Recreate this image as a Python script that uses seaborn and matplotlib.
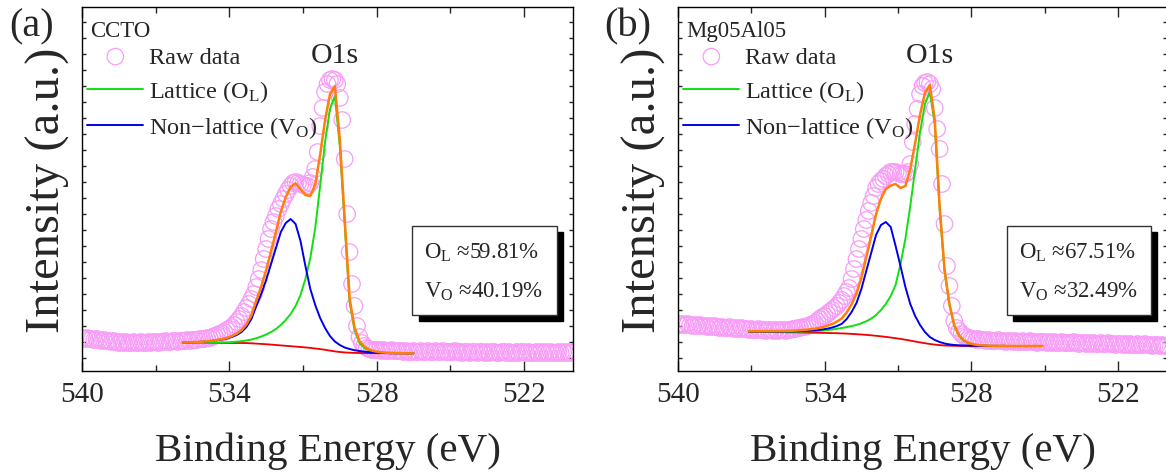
import numpy as np
import matplotlib
matplotlib.use('Agg')
import matplotlib.pyplot as plt
from matplotlib.ticker import MultipleLocator
from matplotlib.patches import Rectangle
import seaborn as sns

sns.set_style('ticks')
plt.rcParams['font.family'] = ['Liberation Serif', 'DejaVu Serif']
plt.rcParams['mathtext.fontset'] = 'custom'
plt.rcParams['mathtext.rm'] = 'Liberation Serif'
plt.rcParams['mathtext.it'] = 'Liberation Serif:italic'

# binding energy grid of the raw scans (0.1 eV step, 540 -> 520 eV)
raw_energy = np.round(np.linspace(540.0, 520.0, 201), 1)
# energy grids of the peak fits (0.2 eV step)
fit_energy_a = np.round(np.linspace(535.9, 526.5, 48), 1)
fit_energy_b = np.round(np.linspace(537.1, 525.1, 61), 1)

# ---- (a) CCTO ----
raw_a = [36, 35, 36, 35, 35, 34, 35, 34, 33, 34,
         33, 33, 32, 33, 32, 31, 32, 31, 32, 31,
         31, 32, 31, 31, 32, 31, 31, 32, 31, 32,
         32, 31, 32, 32, 33, 32, 32, 33, 33, 32,
         33, 33, 33, 34, 33, 34, 34, 34, 35, 35,
         35, 36, 36, 37, 38, 39, 40, 41, 42, 44,
         45, 47, 49, 52, 55, 58, 62, 66, 70, 75,
         80, 87, 95, 104, 115, 125, 135, 145, 152, 158,
         165, 170, 175, 180, 184, 188, 191, 192, 191, 190,
         189, 188, 188, 191, 197, 205, 222, 248, 266, 282,
         290, 294, 295, 294, 290, 276, 254, 215, 160, 122,
         90, 68, 48, 37, 31, 28, 26, 25, 24, 24,
         24, 24, 23, 24, 23, 23, 24, 23, 23, 23,
         23, 22, 23, 22, 22, 23, 22, 22, 23, 22,
         22, 23, 22, 22, 23, 22, 22, 23, 22, 22,
         22, 22, 23, 22, 22, 21, 22, 22, 21, 22,
         22, 21, 22, 22, 21, 22, 21, 22, 22, 21,
         21, 22, 22, 21, 22, 21, 21, 22, 21, 22,
         22, 21, 22, 21, 21, 22, 21, 22, 21, 22,
         21, 22, 21, 21, 22, 21, 22, 21, 22, 21,
         22]
background_a = [31, 31, 31, 31, 31, 31, 31, 31,
                31, 31, 31, 31, 31, 30.9, 30.7, 30.4,
                30.1, 29.8, 29.4, 29.0, 28.6, 28.2, 27.8, 27.4,
                27.0, 26.6, 26.1, 25.5, 24.9, 24.2, 23.4, 22.6,
                22.0, 21.6, 21.3, 21.1, 21.0, 20.9, 20.8, 20.8,
                20.8, 20.8, 20.7, 20.7, 20.7, 20.7, 20.7, 20.7]
lattice_a = [31, 31, 31, 31, 31, 31.1, 31.1, 31.2,
             31.4, 31.6, 31.9, 32.3, 32.8, 33.5, 34.4, 35.8,
             37.5, 39.5, 42, 45, 49, 54, 60, 68,
             79, 95, 116, 146, 188, 232, 265, 278,
             228, 150, 72, 44, 31, 26, 23.5, 22.2,
             21.6, 21.2, 21, 20.9, 20.8, 20.8, 20.7, 20.7]
nonlattice_a = [31.5, 31.6, 31.8, 32, 32.3, 32.7, 33.2, 33.8,
                34.5, 35.5, 37, 39, 42, 47, 55, 68,
                80, 94, 110, 126, 142, 151, 155, 150,
                133, 108, 85, 69, 56, 46, 38, 32.5,
                29, 26.5, 25, 23.8, 23, 22.3, 21.8, 21.4,
                21.2, 21, 20.9, 20.8, 20.8, 20.7, 20.7, 20.7]
envelope_a = [31.5, 31.6, 31.8, 32, 32.3, 32.8, 33.3, 34,
              34.9, 36.1, 37.9, 40.3, 43.8, 49.6, 58.7, 73.4,
              87.4, 103.7, 122.6, 142, 162.4, 176.8, 187.2, 190.6,
              185, 179, 178, 189.5, 219.1, 253.8, 279.6, 287.9,
              235, 154.9, 75.7, 46.7, 33, 27.4, 24.5, 22.8,
              22, 21.4, 21.2, 21, 20.9, 20.8, 20.7, 20.7]

# ---- (b) Mg05Al05 ----
raw_b = [50, 49, 50, 49, 50, 49, 48, 49, 48, 49,
         48, 48, 47, 48, 47, 48, 47, 46, 47, 46,
         46, 47, 46, 45, 46, 45, 46, 45, 45, 44,
         45, 44, 44, 45, 44, 44, 43, 44, 44, 43,
         44, 43, 44, 44, 43, 44, 44, 45, 45, 46,
         46, 47, 47, 48, 49, 50, 51, 53, 55, 57,
         58, 60, 62, 64, 66, 68, 71, 74, 78, 82,
         86, 95, 105, 115, 125, 135, 145, 154, 163, 171,
         178, 186, 190, 193, 195, 198, 200, 202, 202, 202,
         201, 200, 200, 200, 202, 210, 232, 250, 265, 280,
         288, 291, 292, 290, 285, 266, 245, 225, 190, 150,
         108, 88, 68, 53, 46, 43, 40, 38, 37, 36,
         35, 35, 34, 35, 34, 34, 33, 34, 33, 33,
         33, 34, 33, 33, 32, 33, 33, 32, 33, 32,
         32, 33, 32, 32, 33, 32, 32, 31, 32, 32,
         32, 31, 32, 31, 32, 31, 31, 32, 31, 31,
         31, 31, 32, 31, 30, 31, 31, 30, 31, 30,
         31, 30, 30, 31, 30, 30, 31, 30, 30, 29,
         30, 30, 29, 30, 29, 30, 29, 29, 30, 29,
         29, 30, 29, 29, 28, 29, 29, 28, 29, 28,
         28]
background_b = [42.0, 42.0, 42.0, 41.9, 41.9, 41.9, 41.8, 41.8, 41.7, 41.7,
                41.6, 41.5, 41.4, 41.3, 41.2, 41.1, 41.0, 40.9, 40.8, 40.6,
                40.4, 40.1, 39.8, 39.5, 39.1, 38.7, 38.2, 37.7, 37.1, 36.5,
                35.8, 35.1, 34.3, 33.4, 32.5, 31.6, 30.8, 30.0, 29.4, 28.9,
                28.5, 28.3, 28.2, 28.1, 28.0, 28.0, 28.0, 28.0, 28.0, 28.0,
                28, 28, 28, 28, 28, 28, 28, 28, 28, 28,
                28]
lattice_b = [42.3, 42.3, 42.3, 42.3, 42.3, 42.3, 42.3, 42.3, 42.3, 42.3,
             42.4, 42.5, 42.6, 42.8, 43.0, 43.4, 43.9, 44.5, 45.2, 46.0,
             46.9, 47.9, 49.1, 50.7, 52.7, 55.3, 59, 64, 70, 78,
             89, 110, 135, 168, 205, 242, 270, 282, 250, 165,
             103, 69, 48, 38, 33, 30.5, 29.3, 28.7, 28.4, 28.2,
             28.1, 28.1, 28.1, 28, 28, 28, 28, 28, 28, 28,
             28]
nonlattice_b = [42.5, 42.5, 42.5, 42.5, 42.5, 42.5, 42.5, 42.6, 42.6, 42.7,
                42.8, 43.0, 43.2, 43.5, 43.9, 44.5, 45.3, 46.4, 48.0, 50.2,
                55, 62, 71, 85, 103, 121, 139, 149, 152, 147,
                128, 108, 87, 70, 58, 49, 42, 37, 34, 32,
                30.5, 29.6, 29.0, 28.7, 28.5, 28.4, 28.3, 28.2, 28.2, 28.1,
                28.1, 28.1, 28.1, 28, 28, 28, 28, 28, 28, 28,
                28]
envelope_b = [42.8, 42.8, 42.8, 42.9, 42.9, 42.9, 43.0, 43.1, 43.2, 43.3,
              43.6, 44.0, 44.4, 45.0, 45.7, 46.8, 48.2, 50.0, 52.4, 55.6,
              61.5, 69.8, 80.3, 96.2, 116.6, 137.6, 159.8, 175.3, 184.9, 188.5,
              190, 186, 188, 205, 231, 259.4, 281.2, 289, 254.6, 168.1,
              105, 70.3, 48.8, 38.6, 33.5, 30.9, 29.6, 28.9, 28.6, 28.3,
              28.2, 28.2, 28.2, 28.1, 28, 28, 28, 28, 28, 28,
              28]

samples = ['CCTO', 'Mg05Al05']
panel_tags = ['(a)', '(b)']
ol_percent = ['59.81', '67.51']
vo_percent = ['40.19', '32.49']

VIOLET = '#F79CF7'
GREEN = '#10E010'
BLUE = '#0000F0'
RED = '#F00000'
ORANGE = '#FF7F0A'


def draw_panel(ax, raw, fit_e, bg, lat, nonlat, env, sample, ol, vo):
    sns.scatterplot(x=raw_energy, y=raw, ax=ax, marker='o', s=140,
                    facecolor='none', edgecolor=VIOLET, linewidth=0.9,
                    label='Raw data', legend=False, zorder=1)
    raw_handle = ax.collections[-1]
    sns.lineplot(x=fit_e, y=bg, ax=ax, color=RED, lw=1.3, estimator=None)
    sns.lineplot(x=fit_e, y=lat, ax=ax, color=GREEN, lw=1.4, estimator=None)
    lat_handle = ax.lines[-1]
    sns.lineplot(x=fit_e, y=nonlat, ax=ax, color=BLUE, lw=1.4, estimator=None)
    nonlat_handle = ax.lines[-1]
    sns.lineplot(x=fit_e, y=env, ax=ax, color=ORANGE, lw=1.8, estimator=None)

    ax.set_xlim(540, 520)
    ax.set_ylim(3, 367)
    ax.xaxis.set_major_locator(MultipleLocator(6))
    ax.xaxis.set_minor_locator(MultipleLocator(3))
    ax.yaxis.set_major_locator(MultipleLocator(16))
    ax.tick_params(axis='x', which='major', direction='in', length=7, width=1,
                   top=True, labelsize=21, pad=7.5)
    ax.tick_params(axis='x', which='minor', direction='in', length=4, width=1, top=True)
    ax.tick_params(axis='y', which='major', direction='in', length=3, width=1,
                   right=True, labelleft=False)
    for sp in ax.spines.values():
        sp.set_linewidth(1.0)
        sp.set_color('black')

    ax.set_xlabel('Binding Energy (eV)', fontsize=29.5, labelpad=17)
    ax.set_ylabel('Intensity (a.u.)', fontsize=35, labelpad=9)

    ax.legend([raw_handle, lat_handle, nonlat_handle],
              ['Raw data', 'Lattice (O$_\\mathrm{L}$)', 'Non\u2212lattice (V$_\\mathrm{O}$)'],
              loc='upper left', bbox_to_anchor=(0.011, 0.893), frameon=False,
              fontsize=17.5, handlelength=2.3, handletextpad=0.25,
              labelspacing=0.42, borderpad=0, borderaxespad=0)

    ax.text(0.016, 0.935, sample, transform=ax.transAxes, fontsize=16.5,
            ha='left', va='center')
    ax.text(0.515, 0.868, 'O1s', transform=ax.transAxes, fontsize=21.5,
            ha='center', va='center')

    # percentage box with a solid drop shadow
    x0, y0, w, h = 0.673, 0.154, 0.294, 0.245
    ax.add_patch(Rectangle((x0 + 0.013, y0 - 0.016), w, h, transform=ax.transAxes,
                           facecolor='black', edgecolor='black', zorder=5))
    ax.add_patch(Rectangle((x0, y0), w, h, transform=ax.transAxes,
                           facecolor='white', edgecolor='#333333', lw=1.0, zorder=6))
    ax.text(x0 + 0.024, 0.31, 'O$_\\mathrm{L}$ \u2248' + ol + '%', transform=ax.transAxes,
            fontsize=16.5, ha='left', va='baseline', zorder=7)
    ax.text(x0 + 0.024, 0.205, 'V$_\\mathrm{O}$ \u2248' + vo + '%', transform=ax.transAxes,
            fontsize=16.5, ha='left', va='baseline', zorder=7)


fig = plt.figure(figsize=(11.66, 4.77), dpi=100)
ax_a = fig.add_axes([82 / 1166, 105 / 477, 491 / 1166, 364 / 477])
ax_b = fig.add_axes([678 / 1166, 105 / 477, 489 / 1166, 364 / 477])

draw_panel(ax_a, raw_a, fit_energy_a, background_a, lattice_a, nonlattice_a, envelope_a,
           samples[0], ol_percent[0], vo_percent[0])
draw_panel(ax_b, raw_b, fit_energy_b, background_b, lattice_b, nonlattice_b, envelope_b,
           samples[1], ol_percent[1], vo_percent[1])

fig.text(32 / 1166, 1 - 27 / 477, panel_tags[0], fontsize=29, ha='center', va='center')
fig.text(628 / 1166, 1 - 27 / 477, panel_tags[1], fontsize=29, ha='center', va='center')

fig.savefig('out.png', dpi=100)
